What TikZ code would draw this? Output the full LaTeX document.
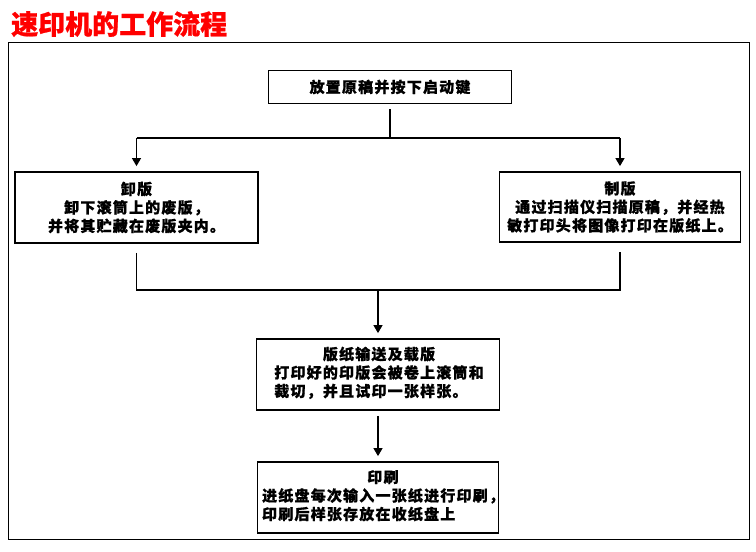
\documentclass[tikz,border=0pt]{standalone}
\usepackage{fontspec}
\usepackage{xcolor}
\usetikzlibrary{arrows.meta,positioning,calc}
\newfontfamily\cjk[LetterSpace=8, BoldFeatures={FakeBold=0.8}]{Noto Sans CJK SC}
\newfontfamily\cjktitle[BoldFeatures={FakeBold=0.8}]{Noto Sans CJK SC}
\definecolor{titlered}{RGB}{255,0,0}
\tikzset{
stepbox/.style args = {#1/#2}{
            draw, line width=1.8pt,
            minimum width=#1, minimum height=#2,
            inner sep=0pt, align=center,
            font=\cjk\bfseries\fontsize{15}{18.5}\selectfont},
flow/.style={line width=1.2pt},
flowarrow/.style={flow, -{Triangle[width=9pt,length=8pt]}, shorten >=5pt}
}
% lines flush left, first line centred, box keeps its size
\def\lefttext#1#2#3{\makebox[0pt]{\hspace*{#1}\begin{tabular}{@{}l@{}}\multicolumn{1}{@{}c@{}}{#2}\\#3\end{tabular}}}

\begin{document}
\begin{tikzpicture}[x=1pt,y=-1pt]
  \useasboundingbox (0,0) rectangle (756,552);
  \node[anchor=west, text=titlered, inner sep=0pt,
        font=\cjktitle\bfseries\fontsize{27}{30}\selectfont] (title) at (11,24) {速印机的工作流程};
  \draw[line width=1pt] (8,42) rectangle (749,539);

  \node[stepbox=243pt/33pt] (start)  at (390,87)    {放置原稿并按下启动键};
  \node[stepbox=243pt/71pt] (unload) at (136.5,207.5) {卸版\\卸下滚筒上的废版，\\并将其贮藏在废版夹内。};
  \node[stepbox=241pt/70pt] (make)   at (620,207)   {制版\\通过扫描仪扫描原稿，并经热\\敏打印头将图像打印在版纸上。};
  \node[stepbox=243pt/71pt] (feed)   at (378,374.5) {\lefttext{2pt}{版纸输送及载版}{打印好的印版会被卷上滚筒和\\裁切，并且试印一张样张。}};
  \node[stepbox=241pt/71pt] (print)  at (378,497.5) {\lefttext{10pt}{印刷}{进纸盘每次输入一张纸进行印刷，\\印刷后样张存放在收纸盘上}};

  \coordinate (split) at (390,138);
  \coordinate (join)  at (378,290);

  \draw[flow, shorten <=5pt] (start.south) -- (split);
  \draw[flow] (unload.north |- split) -- (make.north |- split);
  \draw[flowarrow] (unload.north |- split) -- (unload.north);
  \draw[flowarrow] (make.north |- split) -- (make.north);

  \draw[flow, shorten <=9pt, shorten >=9pt] (unload.south) |- (join) -| (make.south);
  \draw[flowarrow] (join) -- (feed.north);
  \draw[flowarrow, shorten <=5pt] (feed.south) -- (print.north);
\end{tikzpicture}
\end{document}
